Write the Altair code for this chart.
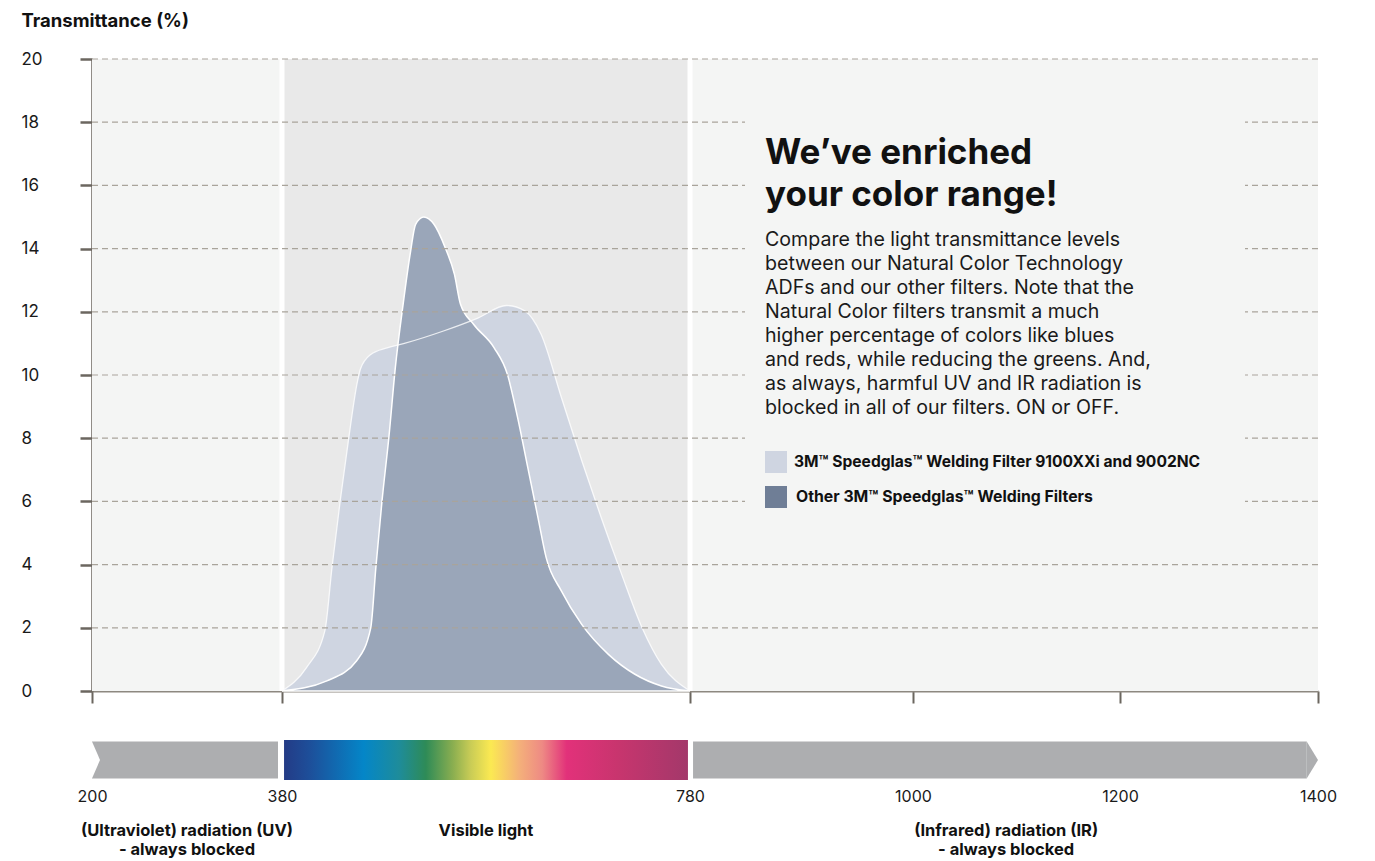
import altair as alt
import pandas as pd

# ---------------- data ----------------
ticks_nm = [200, 380, 780, 1000, 1200, 1400]
tick_px = [0, 190, 598, 821, 1028, 1226]          # piecewise axis layout of the original
y_ticks = [0, 2, 4, 6, 8, 10, 12, 14, 16, 18, 20]
grid_vals = [2, 4, 6, 8, 10, 12, 14, 16, 18, 20]

light_name = "3M\u2122 Speedglas\u2122 Welding Filter 9100XXi and 9002NC"
dark_name = "Other 3M\u2122 Speedglas\u2122 Welding Filters"

light_nm = [380, 404, 422, 429, 437, 445, 454, 457, 467, 483, 500, 539, 572, 600, 618, 634, 654, 674, 693, 713, 733, 752, 780]
light_val = [0, 0.74, 1.9, 3.9, 6.0, 7.9, 9.8, 10.2, 10.65, 10.86, 11.0, 11.4, 11.8, 12.2, 12.03, 11.29, 9.28, 7.28, 5.48, 3.69, 2.0, 0.84, 0]

dark_nm = [380, 424, 453, 467, 472, 478, 485, 491, 499, 506, 511, 519, 529, 540, 549, 555, 568, 588, 601, 611, 621, 631, 639, 654, 674, 700, 726, 752, 780]
dark_val = [0, 0.32, 0.95, 2.0, 3.9, 6.0, 8.1, 10.2, 12.3, 13.9, 14.77, 15.0, 14.77, 14.03, 13.19, 12.24, 11.6, 10.86, 10.02, 8.65, 7.07, 5.48, 4.22, 3.16, 2.1, 1.16, 0.53, 0.16, 0]

region_start = [200, 380, 780]
region_end = [380, 780, 1400]
region_fill = ["#f4f5f4", "#e9e9e9", "#f4f5f4"]
region_label = ["(Ultraviolet) radiation (UV)\n- always blocked", "Visible light",
                "(Infrared) radiation (IR)\n- always blocked"]
separators = [380, 780]

# bottom band geometry (nm)
gray_start = [200, 783]
gray_end = [376.2, 1388.6]
spectrum_start, spectrum_end = 382, 778
notch_nm = [200, 207.6]
notch_top = [0.96, 0.5]
notch_bot = [0.04, 0.5]
tip_nm = [1388.6, 1400]
tip_top = [0.96, 0.5]
tip_bot = [0.04, 0.5]

spectrum_offsets = [0, 0.064, 0.197, 0.285, 0.351, 0.418, 0.462, 0.512, 0.583, 0.639, 0.70, 0.826, 1.0]
spectrum_colors = ["#243b86", "#1d4f9a", "#0486c8", "#1e8c9a", "#2e8b57", "#8aae50", "#c9cc56",
                   "#fbe952", "#f4b07a", "#ee8a84", "#e2317a", "#c8356e", "#a3386a"]

headline = "We\u2019ve enriched\nyour color range!"
body = ("Compare the light transmittance levels\nbetween our Natural Color Technology\n"
        "ADFs and our other filters. Note that the\nNatural Color filters transmit a much\n"
        "higher percentage of colors like blues\nand reds, while reducing the greens. And,\n"
        "as always, harmful UV and IR radiation is\nblocked in all of our filters. ON or OFF.")

LIGHT = "#cfd5e1"
DARK = "#9aa6b9"
DARK_SWATCH = "#6f7e96"
GRAY = "#adaeb0"
FONT = "Inter"

# ---------------- frames ----------------
light_df = pd.DataFrame({"nm": light_nm, "val": light_val, "series": light_name})
dark_df = pd.DataFrame({"nm": dark_nm, "val": dark_val, "series": dark_name})
regions_df = pd.DataFrame({"start": region_start, "end": region_end, "fill": region_fill,
                           "label": region_label,
                           "mid": [(a + b) / 2 for a, b in zip(region_start, region_end)]})
sep_df = pd.DataFrame({"nm": separators})
grid_df = pd.DataFrame({"v": grid_vals})
one = pd.DataFrame({"k": [0]})

xscale = alt.Scale(domain=ticks_nm, range=tick_px, nice=False, zero=False)
yscale = alt.Scale(domain=[0, 20], nice=False, zero=True)

xaxis = alt.Axis(values=ticks_nm, labels=False, grid=False, tickSize=12, tickWidth=2,
                 tickColor="#6b665f", domainColor="#8d8880", domainWidth=2, title=None)
yaxis = alt.Axis(values=y_ticks, grid=False, tickSize=12, tickWidth=2.5, tickColor="#6b665f",
                 domainColor="#6b665f", domainWidth=2.5, labelAlign="left", labelPadding=59,
                 labelFontSize=17, labelColor="#1a1a1a", labelFont=FONT,
                 title="Transmittance (%)", titleAngle=0, titleAlign="left", titleBaseline="top",
                 titleX=-71, titleY=-48, titleFontSize=18.5, titleFontWeight="bold",
                 titleColor="#111111", titleFont=FONT)

X = lambda f: alt.X(f, type="quantitative", scale=xscale, axis=xaxis)
Y = lambda f: alt.Y(f, type="quantitative", scale=yscale, axis=yaxis)

bg = alt.Chart(regions_df).mark_rect().encode(
    x=X("start"), x2="end", y=alt.Y(datum=20, scale=yscale, axis=yaxis), y2=alt.datum(0),
    color=alt.Color("fill:N", scale=None))

seps = alt.Chart(sep_df).mark_rule(color="white", strokeWidth=5).encode(x=X("nm"))

light_area = alt.Chart(light_df).mark_area(color=LIGHT, interpolate="monotone").encode(
    x=X("nm"), y=Y("val"))
dark_area = alt.Chart(dark_df).mark_area(color=DARK, interpolate="monotone", stroke="white",
                                         strokeWidth=1.5).encode(x=X("nm"), y=Y("val"))
light_line = alt.Chart(light_df).mark_line(color="white", strokeWidth=1.3, opacity=0.8,
                                           interpolate="monotone").encode(x=X("nm"), y=Y("val"))

grid = alt.Chart(grid_df).mark_rule(color="#a9a49b", strokeDash=[6, 4], strokeWidth=1.2).encode(
    y=Y("v"))

box = alt.Chart(one).mark_rect(color="#f4f5f4").encode(
    x=alt.value(653), x2=alt.value(1153), y=alt.value(42), y2=alt.value(470))

head = alt.Chart(one).mark_text(text=headline, lineBreak="\n", lineHeight=42, align="left",
                                baseline="alphabetic", font=FONT, fontSize=35, fontWeight="bold",
                                color="#111111").encode(x=alt.value(673), y=alt.value(105))
para = alt.Chart(one).mark_text(text=body, lineBreak="\n", lineHeight=24, align="left",
                                baseline="alphabetic", font=FONT, fontSize=19.6,
                                color="#1a1a1a").encode(x=alt.value(673), y=alt.value(187))

sw1 = alt.Chart(one).mark_rect(color=LIGHT).encode(
    x=alt.value(673), x2=alt.value(695), y=alt.value(392), y2=alt.value(414))
sw2 = alt.Chart(one).mark_rect(color=DARK_SWATCH).encode(
    x=alt.value(673), x2=alt.value(695), y=alt.value(427), y2=alt.value(449))
lt1 = alt.Chart(one).mark_text(text=light_name, align="left", baseline="middle", font=FONT,
                               fontSize=15.6, fontWeight="bold", color="#111111").encode(
    x=alt.value(702), y=alt.value(403))
lt2 = alt.Chart(one).mark_text(text=dark_name, align="left", baseline="middle", font=FONT,
                               fontSize=15.8, fontWeight="bold", color="#111111").encode(
    x=alt.value(704), y=alt.value(438))

main = alt.layer(bg, seps, light_area, dark_area, light_line, grid, box, head, para,
                 sw1, sw2, lt1, lt2).properties(width=1226, height=632)

# ---------------- bottom band ----------------
baxis = alt.Axis(values=ticks_nm, domain=False, ticks=False, grid=False, labelPadding=8,
                 labelFontSize=16, labelColor="#1a1a1a", labelFont=FONT, title=None,
                 format="d", labelFlush=False)
bscale = alt.Scale(domain=[0, 1], nice=False)
BX = lambda f: alt.X(f, type="quantitative", scale=xscale, axis=baxis)

gray_df = pd.DataFrame({"start": gray_start, "end": gray_end})
notch_df = pd.DataFrame({"nm": notch_nm, "top": notch_top, "bot": notch_bot})
tip_df = pd.DataFrame({"nm": tip_nm, "top": tip_top, "bot": tip_bot})
spec_df = pd.DataFrame({"start": [spectrum_start], "end": [spectrum_end]})

gradient = alt.Gradient(gradient="linear", x1=0, x2=1, y1=0, y2=0,
                        stops=[alt.GradientStop(offset=o, color=c)
                               for o, c in zip(spectrum_offsets, spectrum_colors)])

gray = alt.Chart(gray_df).mark_rect(color=GRAY).encode(
    x=BX("start"), x2="end",
    y=alt.Y(datum=0.96, scale=bscale, axis=None), y2=alt.datum(0.04))
notch = alt.Chart(notch_df).mark_area(color="white").encode(
    x=BX("nm"), y=alt.Y("top:Q", scale=bscale, axis=None), y2="bot")
tip = alt.Chart(tip_df).mark_area(color=GRAY).encode(
    x=BX("nm"), y=alt.Y("top:Q", scale=bscale, axis=None), y2="bot")
spec = alt.Chart(spec_df).mark_rect(color=gradient).encode(
    x=BX("start"), x2="end", y=alt.Y(datum=1, scale=bscale, axis=None), y2=alt.datum(0))
rtext = alt.Chart(regions_df).mark_text(lineBreak="\n", lineHeight=19, align="center",
                                        baseline="top", font=FONT, fontSize=16.5,
                                        fontWeight="bold", color="#111111").encode(
    x=BX("mid"), y=alt.value(83), text="label:N")

bottom = alt.layer(gray, notch, tip, spec, rtext).properties(width=1226, height=40)

chart = alt.vconcat(main, bottom, spacing=36).properties(
    padding={"left": 13, "top": 3, "right": 5, "bottom": 0}
).configure(font=FONT).configure_view(stroke=None)

chart.save("out.html", embed_options={"renderer": "svg", "actions": False})
